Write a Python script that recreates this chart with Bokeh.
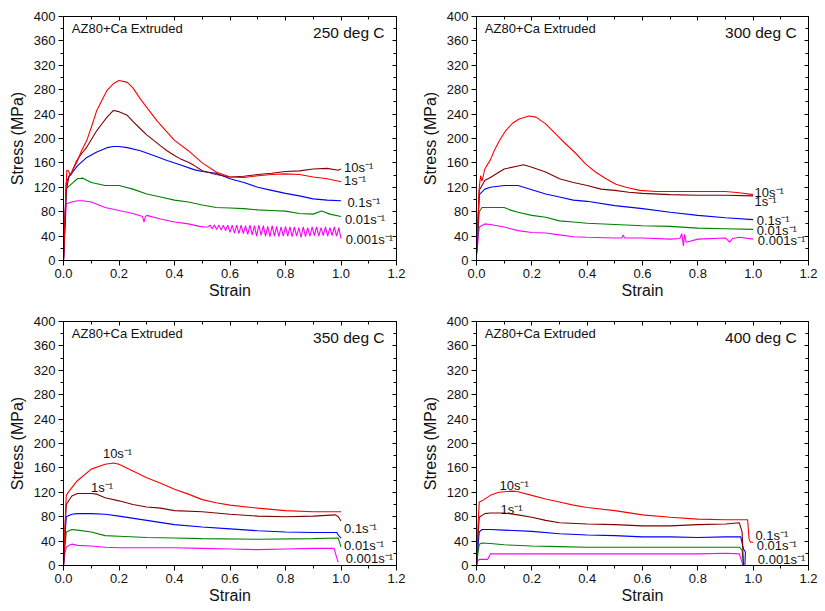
from bokeh.plotting import figure
from bokeh.models import LinearAxis, SingleIntervalTicker, FixedTicker, Range1d, Label, PrintfTickFormatter
from bokeh.layouts import column, row
from bokeh.embed import file_html
from bokeh.resources import INLINE

FONT = "Liberation Sans"
RED = "#ff0000"
MAROON = "#800000"
BLUE = "#0000ff"
GREEN = "#008000"
MAGENTA = "#ff00ff"

x_major_ticks = [0.0, 0.2, 0.4, 0.6, 0.8, 1.0, 1.2]
x_minor_ticks = [0.1, 0.3, 0.5, 0.7, 0.9, 1.1]
y_major_ticks = [0, 40, 80, 120, 160, 200, 240, 280, 320, 360, 400]
y_minor_ticks = [20, 60, 100, 140, 180, 220, 260, 300, 340, 380]

# ---------------- 250 deg C ----------------
t250_10_x = [0, 0.005, 0.012, 0.018, 0.025, 0.035, 0.048, 0.065, 0.084, 0.1, 0.12, 0.14, 0.157, 0.18, 0.2, 0.23, 0.25, 0.277, 0.3, 0.337, 0.37, 0.4, 0.45, 0.5, 0.55, 0.6, 0.65, 0.7, 0.75, 0.8, 0.85, 0.9, 0.95, 1.0]
t250_10_y = [0, 70, 148, 147, 139, 150, 161, 180, 197, 218, 246, 264, 279, 290, 295, 292, 283, 265, 251, 229, 212, 197, 180, 160, 145, 137, 136, 139, 141, 142, 141, 137, 134, 129]
t250_1_x = [0, 0.005, 0.01, 0.02, 0.03, 0.048, 0.065, 0.084, 0.1, 0.12, 0.14, 0.157, 0.18, 0.2, 0.23, 0.25, 0.277, 0.3, 0.325, 0.35, 0.373, 0.4, 0.42, 0.45, 0.47, 0.5, 0.55, 0.6, 0.65, 0.7, 0.75, 0.8, 0.85, 0.9, 0.95, 0.99, 1.0]
t250_1_y = [0, 60, 115, 138, 145, 164, 175, 186, 198, 213, 225, 235, 246, 244, 238, 228, 216, 206, 197, 188, 180, 172, 167, 161, 156, 147, 141, 137, 138, 141, 143, 146, 147, 150, 151, 148, 150]
t250_01_x = [0, 0.005, 0.01, 0.02, 0.03, 0.05, 0.084, 0.12, 0.157, 0.18, 0.2, 0.23, 0.277, 0.325, 0.373, 0.42, 0.47, 0.5, 0.55, 0.6, 0.65, 0.7, 0.75, 0.8, 0.85, 0.9, 0.95, 1.0]
t250_01_y = [0, 60, 128, 138, 143, 155, 169, 178, 185, 187, 187, 185, 180, 172, 164, 157, 149, 146, 143, 134, 128, 120, 115, 110, 106, 101, 99, 98]
t250_001_x = [0, 0.005, 0.01, 0.03, 0.05, 0.07, 0.1, 0.15, 0.2, 0.25, 0.3, 0.35, 0.4, 0.45, 0.5, 0.55, 0.6, 0.65, 0.7, 0.75, 0.8, 0.85, 0.9, 0.93, 0.96, 1.0]
t250_001_y = [0, 60, 118, 126, 134, 135, 128, 123, 123, 117, 109, 104, 99, 96, 91, 87, 86, 85, 83, 82, 81, 77, 76, 81, 76, 72]
t250_0001_x = [0, 0.005, 0.01, 0.03, 0.05, 0.07, 0.1, 0.15, 0.2, 0.25, 0.285, 0.29, 0.295, 0.3, 0.35, 0.4, 0.45, 0.49, 0.51,
               0.520, 0.528, 0.536, 0.544, 0.552, 0.560, 0.568, 0.576, 0.584, 0.592, 0.600, 0.608, 0.616, 0.624, 0.632,
               0.640, 0.648, 0.656, 0.664, 0.672, 0.680, 0.688, 0.696, 0.704, 0.712, 0.720, 0.728, 0.736, 0.744, 0.752,
               0.760, 0.768, 0.776, 0.784, 0.792, 0.800, 0.808, 0.816, 0.824, 0.832, 0.840, 0.848, 0.856, 0.864, 0.872,
               0.880, 0.888, 0.896, 0.904, 0.912, 0.920, 0.928, 0.936, 0.944, 0.952, 0.960, 0.968, 0.976, 0.984, 0.992, 1.000]
t250_0001_y = [0, 50, 93, 96, 98, 98, 96, 87, 82, 77, 72, 63, 72, 74, 68, 63, 60, 56, 55,
               55, 58, 52, 58, 51, 58, 50, 58, 49, 58, 46, 58, 45, 58, 44,
               58, 44, 57, 43, 58, 42, 57, 40, 58, 41, 57, 40, 56, 39, 57,
               40, 56, 39, 55, 40, 56, 40, 55, 39, 55, 40, 54, 38, 55, 39,
               54, 40, 55, 41, 55, 40, 54, 41, 55, 40, 54, 41, 55, 40, 54, 36]

# ---------------- 300 deg C ----------------
t300_10_x = [0, 0.005, 0.01, 0.015, 0.02, 0.03, 0.05, 0.064, 0.082, 0.106, 0.13, 0.154, 0.19, 0.215, 0.25, 0.287, 0.323, 0.36, 0.395, 0.43, 0.468, 0.504, 0.54, 0.59, 0.65, 0.7, 0.8, 0.9, 0.95, 1.0]
t300_10_y = [15, 60, 120, 139, 130, 150, 165, 180, 196, 213, 225, 232, 237, 235, 224, 207, 191, 175, 158, 145, 134, 125, 120, 115, 113, 113, 113, 113, 111, 108]
t300_1_x = [0, 0.005, 0.01, 0.03, 0.05, 0.1, 0.15, 0.17, 0.2, 0.25, 0.3, 0.35, 0.4, 0.45, 0.5, 0.55, 0.6, 0.7, 0.8, 0.9, 1.0]
t300_1_y = [10, 60, 115, 131, 136, 150, 155, 157, 153, 145, 134, 128, 123, 117, 115, 112, 110, 108, 107, 107, 106]
t300_01_x = [0, 0.005, 0.01, 0.03, 0.05, 0.1, 0.15, 0.2, 0.25, 0.3, 0.35, 0.4, 0.5, 0.6, 0.7, 0.8, 0.9, 1.0]
t300_01_y = [10, 55, 108, 117, 120, 123, 123, 116, 109, 104, 99, 97, 90, 85, 79, 74, 70, 67]
t300_001_x = [0, 0.005, 0.01, 0.02, 0.05, 0.1, 0.12, 0.15, 0.2, 0.25, 0.3, 0.35, 0.4, 0.5, 0.6, 0.7, 0.8, 0.9, 1.0]
t300_001_y = [10, 45, 80, 87, 87, 87, 83, 79, 74, 71, 65, 63, 61, 59, 57, 56, 53, 52, 51]
t300_0001_x = [0, 0.005, 0.01, 0.03, 0.05, 0.1, 0.15, 0.2, 0.25, 0.3, 0.35, 0.4, 0.5, 0.525, 0.53, 0.535, 0.55, 0.6, 0.7, 0.735, 0.742, 0.748, 0.752, 0.758, 0.8, 0.9, 0.915, 0.925, 0.95, 1.0]
t300_0001_y = [10, 30, 55, 60, 59, 55, 49, 46, 45, 42, 39, 38, 37, 37, 42, 37, 37, 37, 35, 36, 44, 24, 43, 30, 35, 37, 30, 36, 38, 35]

# ---------------- 350 deg C ----------------
t350_10_x = [0, 0.005, 0.01, 0.02, 0.05, 0.1, 0.15, 0.18, 0.2, 0.25, 0.3, 0.35, 0.4, 0.45, 0.5, 0.55, 0.6, 0.7, 0.8, 0.9, 1.0]
t350_10_y = [0, 60, 115, 122, 139, 158, 166, 168, 166, 155, 144, 135, 125, 117, 108, 103, 99, 94, 90, 88, 88]
t350_1_x = [0, 0.005, 0.01, 0.03, 0.05, 0.1, 0.12, 0.15, 0.2, 0.25, 0.3, 0.35, 0.4, 0.5, 0.6, 0.7, 0.8, 0.9, 0.98, 0.99, 1.0]
t350_1_y = [0, 55, 100, 114, 118, 118, 117, 111, 106, 100, 96, 94, 90, 88, 84, 81, 80, 81, 83, 80, 73]
t350_01_x = [0, 0.005, 0.01, 0.03, 0.05, 0.1, 0.15, 0.2, 0.3, 0.4, 0.5, 0.6, 0.7, 0.8, 0.9, 0.985, 0.99, 1.0]
t350_01_y = [0, 45, 80, 84, 85, 85, 84, 81, 74, 67, 63, 60, 57, 55, 54, 54, 50, 45]
t350_001_x = [0, 0.005, 0.01, 0.03, 0.05, 0.1, 0.15, 0.2, 0.3, 0.4, 0.5, 0.7, 0.9, 0.99, 0.995, 1.0]
t350_001_y = [0, 30, 55, 59, 58, 55, 49, 48, 46, 45, 44, 43, 44, 45, 38, 30]
t350_0001_x = [0, 0.005, 0.01, 0.02, 0.03, 0.05, 0.1, 0.15, 0.2, 0.3, 0.4, 0.5, 0.6, 0.7, 0.8, 0.9, 0.975, 0.985, 0.99]
t350_0001_y = [0, 20, 30, 33, 35, 33, 32, 30, 29, 29, 29, 28, 27, 26, 27, 28, 28, 12, 5]

# ---------------- 400 deg C ----------------
t400_10_x = [0, 0.005, 0.01, 0.02, 0.05, 0.08, 0.1, 0.13, 0.15, 0.2, 0.25, 0.3, 0.35, 0.4, 0.5, 0.6, 0.7, 0.8, 0.9, 0.98, 0.985, 0.99, 1.0]
t400_10_y = [0, 60, 104, 106, 115, 120, 121, 122, 121, 115, 109, 104, 99, 95, 90, 83, 79, 76, 75, 75, 44, 38, 38]
t400_1_x = [0, 0.005, 0.01, 0.03, 0.05, 0.1, 0.15, 0.2, 0.25, 0.3, 0.4, 0.5, 0.6, 0.7, 0.8, 0.9, 0.95, 0.96, 0.965]
t400_1_y = [0, 45, 79, 85, 86, 86, 83, 79, 74, 70, 68, 67, 65, 65, 67, 68, 70, 55, 0]
t400_01_x = [0, 0.005, 0.01, 0.02, 0.05, 0.1, 0.2, 0.3, 0.4, 0.5, 0.6, 0.7, 0.8, 0.9, 0.955, 0.965, 0.972, 0.97]
t400_01_y = [0, 30, 55, 59, 59, 58, 56, 52, 50, 49, 47, 47, 46, 47, 47, 27, 22, 0]
t400_001_x = [0, 0.005, 0.01, 0.02, 0.05, 0.1, 0.2, 0.3, 0.4, 0.6, 0.8, 0.95, 0.96, 0.965]
t400_001_y = [0, 20, 35, 37, 36, 34, 32, 31, 30, 30, 30, 30, 25, 0]
t400_0001_x = [0, 0.005, 0.01, 0.04, 0.05, 0.1, 0.2, 0.3, 0.4, 0.5, 0.6, 0.7, 0.8, 0.9, 0.95, 0.96, 0.962]
t400_0001_y = [0, 8, 10, 10, 19, 19, 19, 19, 19, 19, 19, 19, 19, 20, 19, 5, 0]

# rate labels: (text, x, y)
lab_250 = [("10s⁻¹", 1.011, 153), ("1s⁻¹", 1.011, 131), ("0.1s⁻¹", 1.023, 95), ("0.01s⁻¹", 1.014, 67), ("0.001s⁻¹", 1.017, 35)]
lab_300 = [("10s⁻¹", 1.005, 112), ("1s⁻¹", 1.005, 97), ("0.1s⁻¹", 1.013, 65), ("0.01s⁻¹", 1.013, 49), ("0.001s⁻¹", 1.017, 32)]
lab_350 = [("10s⁻¹", 0.142, 183), ("1s⁻¹", 0.099, 128), ("0.1s⁻¹", 1.011, 60), ("0.01s⁻¹", 1.011, 33), ("0.001s⁻¹", 1.017, 11)]
lab_400 = [("10s⁻¹", 0.083, 131), ("1s⁻¹", 0.087, 92), ("0.1s⁻¹", 1.008, 49), ("0.01s⁻¹", 1.013, 32), ("0.001s⁻¹", 1.017, 10)]

temps = ["250 deg C", "300 deg C", "350 deg C", "400 deg C"]
material = "AZ80+Ca Extruded"


def make_panel(width, height, left, right, top, bottom, curves, labels, temp):
    p = figure(width=width, height=height, output_backend="svg", toolbar_location=None,
               x_range=Range1d(0, 1.2), y_range=Range1d(0, 400),
               min_border_left=left, min_border_right=right,
               min_border_top=top, min_border_bottom=bottom,
               x_axis_label="Strain", y_axis_label="Stress (MPa)")
    p.grid.visible = False
    p.outline_line_color = "black"
    p.background_fill_color = "white"
    p.border_fill_color = "white"

    xa = p.xaxis[0]
    xa.ticker = FixedTicker(ticks=x_major_ticks, minor_ticks=x_minor_ticks)
    xa.formatter = PrintfTickFormatter(format="%.1f")
    ya = p.yaxis[0]
    ya.ticker = FixedTicker(ticks=y_major_ticks, minor_ticks=y_minor_ticks)
    for ax in (xa, ya):
        ax.major_tick_out = 5
        ax.major_tick_in = 0
        ax.minor_tick_out = 3
        ax.minor_tick_in = 0
        ax.axis_line_color = "black"
        ax.major_tick_line_color = "black"
        ax.minor_tick_line_color = "black"
        ax.major_label_text_font = FONT
        ax.major_label_text_font_size = "13px"
        ax.major_label_text_color = "#111111"
        ax.axis_label_text_font = FONT
        ax.axis_label_text_font_size = "16px"
        ax.axis_label_text_font_style = "normal"
        ax.axis_label_text_color = "#111111"
        ax.major_label_standoff = 3
    xa.axis_label_standoff = 1
    ya.axis_label_standoff = 5

    top_ax = LinearAxis(ticker=FixedTicker(ticks=x_major_ticks, minor_ticks=x_minor_ticks))
    right_ax = LinearAxis(ticker=FixedTicker(ticks=y_major_ticks, minor_ticks=y_minor_ticks))
    for ax in (top_ax, right_ax):
        ax.major_tick_in = 4
        ax.major_tick_out = 0
        ax.minor_tick_in = 3
        ax.minor_tick_out = 0
        ax.major_label_text_color = None
        ax.major_label_text_font_size = "1px"
        ax.major_label_standoff = 0
        ax.axis_line_color = "black"
    p.add_layout(top_ax, "above")
    p.add_layout(right_ax, "right")

    for xs, ys, col in curves:
        p.line(xs, ys, line_color=col, line_width=1.1)

    for txt, lx, ly in labels:
        p.add_layout(Label(x=lx, y=ly, text=txt, text_font=FONT, text_font_size="13px",
                           text_font_style="normal",
                           text_baseline="middle", text_align="left", text_color="#111111"))

    p.add_layout(Label(x=0.03, y=380, text=material, text_font=FONT, text_font_size="13px",
                       text_font_style="normal",
                       text_baseline="middle", text_align="left", text_color="#111111"))
    p.add_layout(Label(x=1.157, y=374, text=temp, text_font=FONT, text_font_size="15.5px",
                       text_font_style="normal",
                       text_baseline="middle", text_align="right", text_color="#111111"))
    return p


c250 = [(t250_0001_x, t250_0001_y, MAGENTA), (t250_001_x, t250_001_y, GREEN), (t250_01_x, t250_01_y, BLUE),
        (t250_1_x, t250_1_y, MAROON), (t250_10_x, t250_10_y, RED)]
c300 = [(t300_0001_x, t300_0001_y, MAGENTA), (t300_001_x, t300_001_y, GREEN), (t300_01_x, t300_01_y, BLUE),
        (t300_1_x, t300_1_y, MAROON), (t300_10_x, t300_10_y, RED)]
c350 = [(t350_0001_x, t350_0001_y, MAGENTA), (t350_001_x, t350_001_y, GREEN), (t350_01_x, t350_01_y, BLUE),
        (t350_1_x, t350_1_y, MAROON), (t350_10_x, t350_10_y, RED)]
c400 = [(t400_0001_x, t400_0001_y, MAGENTA), (t400_001_x, t400_001_y, GREEN), (t400_01_x, t400_01_y, BLUE),
        (t400_1_x, t400_1_y, MAROON), (t400_10_x, t400_10_y, RED)]

p1 = make_panel(412, 305, 63, 16, 16, 45, c250, lab_250, temps[0])
p2 = make_panel(413, 305, 64, 17, 16, 45, c300, lab_300, temps[1])
p3 = make_panel(412, 306, 63, 16, 16, 46, c350, lab_350, temps[2])
p4 = make_panel(413, 306, 64, 17, 16, 46, c400, lab_400, temps[3])

layout = column(row(p1, p2, spacing=0), row(p3, p4, spacing=0), spacing=0)
open("out.html", "w").write(file_html(layout, INLINE))
